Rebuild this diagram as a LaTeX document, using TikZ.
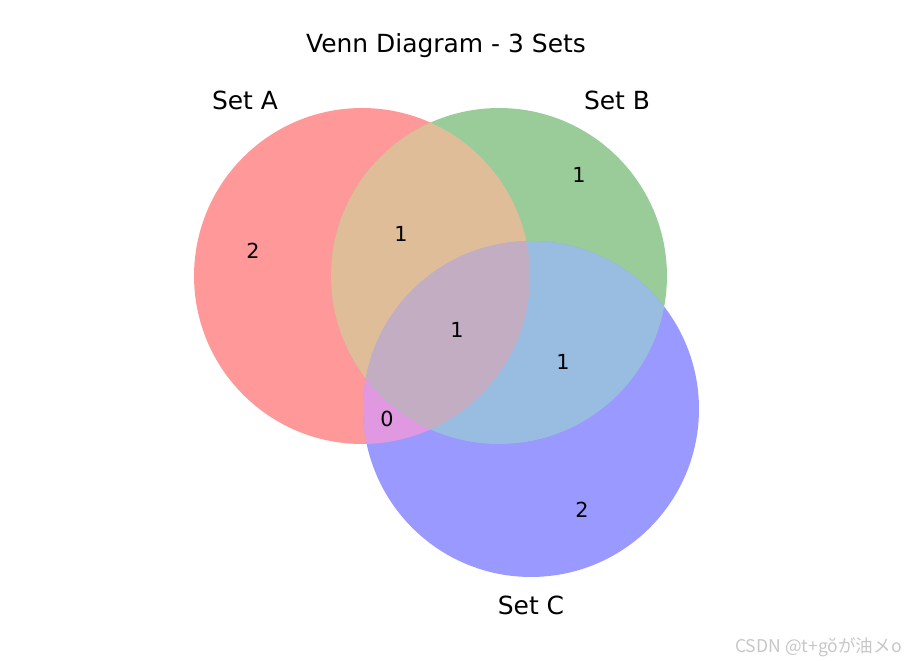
\documentclass[tikz,border=0pt]{standalone}
\usepackage{fontspec}
\setmainfont{DejaVu Sans}
\newfontfamily\wmfont{Noto Sans CJK SC}
\definecolor{onlyA}{RGB}{255,153,153}
\definecolor{onlyB}{RGB}{153,204,153}
\definecolor{onlyC}{RGB}{153,153,255}
\definecolor{partAB}{RGB}{224,189,153}
\definecolor{partAC}{RGB}{224,153,224}
\definecolor{partBC}{RGB}{153,189,224}
\definecolor{partABC}{RGB}{194,173,194}

\begin{document}
\begin{tikzpicture}[x=0.02cm, y=-0.02cm, setlabel/.style = {font=\fontsize{14.2}{16}\selectfont}, count/.style = {font=\fontsize{11.8}{14}\selectfont}]
        \useasboundingbox (0, 0) rectangle (906, 661);
        \coordinate (A) at (362, 276);
        \coordinate (B) at (499, 276);
        \coordinate (C) at (531, 409);
        % the seven regions
        \fill[onlyA] (A) circle[radius=3.36cm];
        \fill[onlyB] (B) circle[radius=3.36cm];
        \fill[onlyC] (C) circle[radius=3.36cm];
        \begin{scope}
            \clip (A) circle[radius=3.36cm];
            \fill[partAB] (B) circle[radius=3.36cm];
            \fill[partAC] (C) circle[radius=3.36cm];
        \end{scope}
        \begin{scope}
            \clip (B) circle[radius=3.36cm];
            \fill[partBC] (C) circle[radius=3.36cm];
            \clip (A) circle[radius=3.36cm];
            \fill[partABC] (C) circle[radius=3.36cm];
        \end{scope}
        \node[setlabel] (title) at (446, 46) {Venn Diagram - 3 Sets};
        \node[setlabel] (la) at (245, 100) {Set A};
        \node[setlabel] (lb) at (617, 100) {Set B};
        \node[setlabel] (lc) at (531, 605) {Set C};
        \node[count] (nA) at (253, 251) {2};
        \node[count] (nB) at (579, 175) {1};
        \node[count] (nC) at (582, 510) {2};
        \node[count] (nAB) at (401, 234) {1};
        \node[count] (nAC) at (387, 419) {0};
        \node[count] (nBC) at (563, 362) {1};
        \node[count] (nABC) at (457, 330) {1};
        \node[anchor=east, text=black!22, font=\wmfont\fontsize{10}{12}\selectfont, inner sep=0pt] (wm) at (902, 647) {CSDN @t+gŏが油メo};
    \end{tikzpicture}
\end{document}
